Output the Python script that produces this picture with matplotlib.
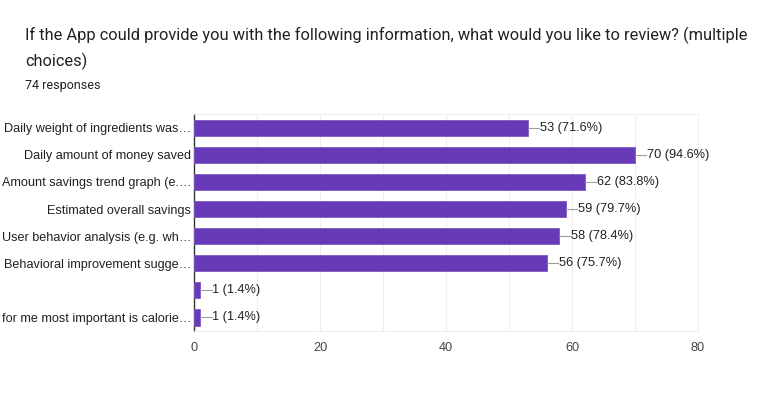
import matplotlib
matplotlib.use("Agg")
import matplotlib.pyplot as plt

labels = ["Daily weight of ingredients was…",
          "Daily amount of money saved",
          "Amount savings trend graph (e.…",
          "Estimated overall savings",
          "User behavior analysis (e.g. wh…",
          "Behavioral improvement sugge…",
          "",
          "for me most important is calorie…"]
counts = [53, 70, 62, 59, 58, 56, 1, 1]
total = 74

fig = plt.figure(figsize=(7.77, 3.95), dpi=100)
ax = fig.add_axes([0.2497, 0.162, 0.6486, 0.549])

y = list(range(len(counts)))
ax.barh(y, counts, height=0.6, color="#673ab7", edgecolor="#7e57c2", linewidth=0.6, zorder=3)
for yi, c in zip(y, counts):
    pct = c / total * 100
    ax.plot([c, c + 1.8], [yi, yi], color="#9e9e9e", lw=0.8, zorder=3)
    ax.text(c + 1.9, yi, f"{c} ({pct:.1f}%)", va="center", ha="left",
            fontsize=9.2, family="Liberation Sans", color="#212121")

ax.set_xlim(0, 80)
ax.set_ylim(len(counts) - 0.5, -0.5)
ax.set_yticks(y)
ax.set_yticklabels(labels, fontsize=9.1, family="Liberation Sans", color="#212121")
ax.set_xticks([0, 20, 40, 60, 80])
ax.set_xticks(range(0, 81, 10), minor=True)
ax.tick_params(axis="x", which="both", length=0, labelsize=9.2, labelcolor="#444444", pad=8)
ax.tick_params(axis="y", length=0, pad=2)
for lab in ax.get_xticklabels():
    lab.set_family("Liberation Sans")
ax.grid(axis="x", which="both", color="#eeeeee", lw=0.8, zorder=0)
for s in ["top", "right", "bottom"]:
    ax.spines[s].set_color("#eeeeee")
ax.spines["left"].set_color("#333333")
ax.spines["left"].set_linewidth(1.0)

fig.text(0.032, 0.91, "If the App could provide you with the following information, what would you like to review? (multiple",
         fontsize=11.8, family="Roboto", color="#202124", va="center")
fig.text(0.032, 0.845, "choices)", fontsize=11.8, family="Roboto", color="#202124", va="center")
fig.text(0.032, 0.783, "74 responses", fontsize=9, family="Roboto", color="#202124", va="center")

fig.savefig("out.png", dpi=100)
